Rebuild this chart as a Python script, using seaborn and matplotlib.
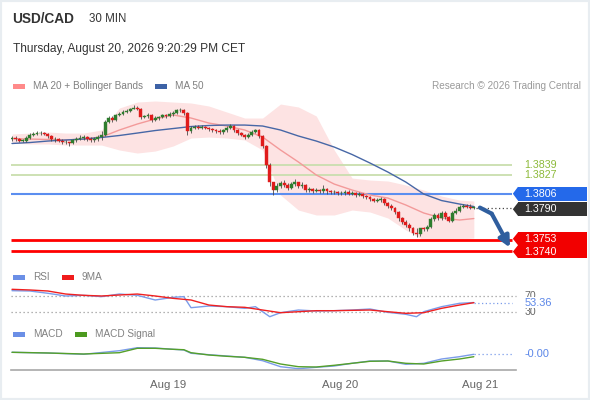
import numpy as np
import pandas as pd
import matplotlib
matplotlib.use("Agg")
import matplotlib.pyplot as plt
import seaborn as sns
from matplotlib.patches import Rectangle, Polygon

# ---------------- data ----------------
closes = [
    1.3870, 1.3869, 1.3867, 1.3867, 1.3870, 1.3874, 1.3875, 1.3876, 1.3876, 1.3875,
    1.3872, 1.3869, 1.3869, 1.3867, 1.3865, 1.3865, 1.3864, 1.3868, 1.3869, 1.3870,
    1.3871, 1.3869, 1.3868, 1.3869, 1.3871, 1.3874, 1.3889, 1.3893, 1.3891, 1.3897,
    1.3898, 1.3900, 1.3901, 1.3904, 1.3905, 1.3904, 1.3894, 1.3895, 1.3897, 1.3891,
    1.3893, 1.3894, 1.3897, 1.3895, 1.3898, 1.3899, 1.3902, 1.3902, 1.3899, 1.3878,
    1.3882, 1.3883, 1.3882, 1.3883, 1.3882, 1.3880, 1.3879, 1.3878, 1.3877, 1.3879,
    1.3882, 1.3884, 1.3879, 1.3876, 1.3874, 1.3871, 1.3874, 1.3877, 1.3879, 1.3872,
    1.3861, 1.3839, 1.3819, 1.3810, 1.3815, 1.3818, 1.3816, 1.3812, 1.3817, 1.3819,
    1.3815, 1.3816, 1.3810, 1.3811, 1.3809, 1.3810, 1.3809, 1.3811, 1.3809, 1.3808,
    1.3808, 1.3807, 1.3807, 1.3808, 1.3806, 1.3807, 1.3804, 1.3806, 1.3803, 1.3802,
    1.3800, 1.3798, 1.3799, 1.3800, 1.3795, 1.3792, 1.3790, 1.3785, 1.3778, 1.3774,
    1.3770, 1.3766, 1.3761, 1.3760, 1.3766, 1.3765, 1.3768, 1.3777, 1.3782, 1.3778,
    1.3784, 1.3779, 1.3775, 1.3784, 1.3786, 1.3791, 1.3792, 1.3791, 1.3790, 1.3790,
]
first_open = 1.3869
highs = [
    1.3872, 1.3872, 1.3870, 1.3869, 1.3872, 1.3876, 1.3877, 1.3878, 1.3878, 1.3877,
    1.3876, 1.3873, 1.3871, 1.3870, 1.3869, 1.3868, 1.3866, 1.3869, 1.3871, 1.3873,
    1.3873, 1.3872, 1.3871, 1.3871, 1.3873, 1.3878, 1.3891, 1.3896, 1.3895, 1.3898,
    1.3900, 1.3902, 1.3903, 1.3905, 1.3908, 1.3907, 1.3905, 1.3897, 1.3899, 1.3898,
    1.3895, 1.3896, 1.3898, 1.3898, 1.3900, 1.3901, 1.3904, 1.3905, 1.3903, 1.3900,
    1.3884, 1.3885, 1.3885, 1.3885, 1.3884, 1.3883, 1.3882, 1.3881, 1.3880, 1.3881,
    1.3884, 1.3886, 1.3885, 1.3880, 1.3877, 1.3875, 1.3876, 1.3879, 1.3881, 1.3880,
    1.3873, 1.3862, 1.3841, 1.3820, 1.3818, 1.3821, 1.3822, 1.3818, 1.3819, 1.3823,
    1.3820, 1.3819, 1.3817, 1.3814, 1.3813, 1.3812, 1.3811, 1.3816, 1.3812, 1.3810,
    1.3810, 1.3809, 1.3809, 1.3810, 1.3810, 1.3809, 1.3808, 1.3808, 1.3807, 1.3805,
    1.3803, 1.3801, 1.3801, 1.3802, 1.3801, 1.3796, 1.3794, 1.3791, 1.3786, 1.3779,
    1.3776, 1.3772, 1.3768, 1.3766, 1.3767, 1.3768, 1.3770, 1.3779, 1.3784, 1.3784,
    1.3786, 1.3786, 1.3780, 1.3786, 1.3789, 1.3793, 1.3794, 1.3794, 1.3794, 1.3792,
]
lows = [
    1.3867, 1.3867, 1.3865, 1.3865, 1.3866, 1.3869, 1.3872, 1.3874, 1.3874, 1.3873,
    1.3870, 1.3867, 1.3866, 1.3865, 1.3863, 1.3863, 1.3861, 1.3863, 1.3866, 1.3868,
    1.3868, 1.3867, 1.3865, 1.3866, 1.3867, 1.3868, 1.3872, 1.3887, 1.3889, 1.3890,
    1.3895, 1.3897, 1.3899, 1.3900, 1.3903, 1.3902, 1.3892, 1.3893, 1.3893, 1.3889,
    1.3890, 1.3891, 1.3893, 1.3893, 1.3894, 1.3896, 1.3898, 1.3900, 1.3897, 1.3874,
    1.3876, 1.3880, 1.3880, 1.3881, 1.3880, 1.3878, 1.3877, 1.3876, 1.3875, 1.3875,
    1.3877, 1.3880, 1.3877, 1.3874, 1.3872, 1.3869, 1.3870, 1.3872, 1.3876, 1.3870,
    1.3859, 1.3836, 1.3815, 1.3804, 1.3808, 1.3813, 1.3814, 1.3810, 1.3811, 1.3815,
    1.3813, 1.3813, 1.3808, 1.3808, 1.3807, 1.3808, 1.3807, 1.3807, 1.3806, 1.3806,
    1.3806, 1.3805, 1.3805, 1.3805, 1.3804, 1.3804, 1.3802, 1.3803, 1.3801, 1.3800,
    1.3798, 1.3796, 1.3796, 1.3797, 1.3793, 1.3790, 1.3787, 1.3783, 1.3775, 1.3771,
    1.3768, 1.3763, 1.3758, 1.3756, 1.3757, 1.3763, 1.3763, 1.3766, 1.3775, 1.3776,
    1.3776, 1.3777, 1.3773, 1.3774, 1.3783, 1.3785, 1.3789, 1.3789, 1.3788, 1.3788,
]

# indicator samples (candle index -> value)
ma_idx = [0, 5, 10, 15, 20, 25, 30, 35, 40, 45, 50, 55, 60, 65, 70, 75, 80, 85,
          90, 95, 100, 105, 110, 115, 120, 125, 129]
ma20 = [1.38695, 1.38689, 1.38684, 1.38678, 1.38689, 1.38712, 1.38793, 1.38862,
        1.38920, 1.38966, 1.38931, 1.38873, 1.38839, 1.38793, 1.38712, 1.38563,
        1.38425, 1.38275, 1.38171, 1.38102, 1.38045, 1.38010, 1.37930, 1.37838,
        1.37780, 1.37757, 1.37774]
ma50 = [1.38638, 1.38649, 1.38666, 1.38678, 1.38689, 1.38707, 1.38730, 1.38758,
        1.38787, 1.38810, 1.38833, 1.38845, 1.38850, 1.38850, 1.38839, 1.38793,
        1.38724, 1.38666, 1.38597, 1.38511, 1.38413, 1.38309, 1.38194, 1.38056,
        1.37981, 1.37941, 1.37912]
bb_upper = [1.38747, 1.38758, 1.38770, 1.38758, 1.38758, 1.38793, 1.39046, 1.39115,
            1.39127, 1.39115, 1.39104, 1.39069, 1.39000, 1.38931, 1.38931, 1.39092,
            1.39058, 1.38954, 1.38563, 1.38240, 1.38217, 1.38206, 1.38160, 1.38102,
            1.38033, 1.37987, 1.37976]
bb_lower = [1.38643, 1.38632, 1.38632, 1.38620, 1.38620, 1.38620, 1.38563, 1.38528,
            1.38551, 1.38609, 1.38701, 1.38712, 1.38701, 1.38678, 1.38563, 1.38045,
            1.37872, 1.37815, 1.37815, 1.37872, 1.37849, 1.37780, 1.37642, 1.37527,
            1.37527, 1.37538, 1.37550]

rsi_idx = [0, 5, 10, 15, 20, 25, 30, 35, 40, 45, 48, 50, 55, 60, 65, 68, 70, 72, 75,
           80, 85, 90, 95, 100, 105, 110, 113, 115, 120, 125, 129]
rsi = [83.5, 82.7, 76.9, 70.0, 71.7, 68.3, 75.0, 71.7, 59.8, 66.6, 68.3, 40.2, 44.5,
       42.8, 38.6, 42.8, 30.0, 17.3, 27.5, 34.3, 31.8, 32.6, 34.3, 36.9, 28.4, 23.4,
       17.3, 30.0, 42.8, 51.4, 53.36]
rsi_ma = [87.0, 85.3, 82.7, 75.0, 71.7, 70.0, 72.5, 75.0, 70.0, 64.0, 59.8, 47.0, 42.8,
          41.2, 34.3, 27.5, 30.0, 32.6, 32.6, 33.5, 34.3, 30.0, 25.9, 27.5, 38.6, 47.0,
          53.0]
rsi_levels = [70, 30]

macd_idx = [0, 10, 20, 30, 35, 40, 45, 48, 50, 55, 60, 65, 70, 75, 80, 85, 90, 95,
            100, 105, 110, 115, 120, 125, 129]
macd = [0.000051, 0.000030, -0.000009, 0.000099, 0.000189, 0.000180, 0.000141,
        0.000120, 0.000021, -0.000021, -0.000060, -0.000099, -0.000201, -0.000381,
        -0.000441, -0.000399, -0.000360, -0.000279, -0.000210, -0.000210, -0.000309,
        -0.000279, -0.000150, -0.000081, -0.000009]
macd_signal = [0.000051, 0.000030, 0.000000, 0.000039, 0.000171, 0.000171, 0.000141,
               0.000129, 0.000039, -0.000030, -0.000069, -0.000099, -0.000159,
               -0.000300, -0.000381, -0.000390, -0.000339, -0.000279, -0.000219,
               -0.000210, -0.000279, -0.000300, -0.000210, -0.000150, -0.000081]

resistance = [1.3839, 1.3827]
pivot = 1.3806
supports = [1.3753, 1.3740]
last_price = closes[-1]

forecast_x = [130.7, 134.0, 139.1]
forecast_y = [1.3790, 1.3783, 1.3744]

date_labels = ["Aug 19", "Aug 20", "Aug 21"]
date_pos = [43.6, 91.6, 130.7]

title = "USD/CAD"
interval = "30 MIN"
timestamp = "Thursday, August 20, 2026 9:20:29 PM CET"
credit = "Research \u00a9 2026 Trading Central"

# ---------------- style ----------------
sns.set_theme(style="white")
plt.rcParams["font.family"] = ["Liberation Sans", "DejaVu Sans"]

W, H = 590, 400
fig = plt.figure(figsize=(W / 100, H / 100), dpi=100)
fig.patch.set_facecolor("white")
fx = lambda x: x / W
fy = lambda y: 1 - y / H

XL = (-0.28, 161.45)       # x range of panels (11 px .. 590 px)
LINE_END = 139.7           # x = 512 px
BOX_L, BOX_R, TIP = 141.3, 160.6, 139.9
TXT_X = 143.1

# border
fig.add_artist(Rectangle((0, 0), 1, 1, transform=fig.transFigure, fill=False,
                         edgecolor="#e8edf1", lw=3))

# header texts
fig.text(fx(12), fy(19), title, fontsize=9.8, fontweight="bold", color="#333333", va="center")
fig.text(fx(89), fy(19), interval, fontsize=8.3, color="#333333", va="center")
fig.text(fx(13), fy(49), timestamp, fontsize=8.6, color="#333333", va="center")


def legend_item(x, y, color, label):
    fig.add_artist(Rectangle((fx(x), fy(y + 2.5)), 12 / W, 5 / H, transform=fig.transFigure,
                             color=color, lw=0))
    fig.text(fx(x + 20), fy(y), label, fontsize=7.2, color="#808080", va="center")


legend_item(13, 86, "#ff8a8a", "MA 20 + Bollinger Bands")
legend_item(155, 86, "#3d62a6", "MA 50")
fig.text(fx(581), fy(86), credit, fontsize=7.2, color="#9a9a9a", va="center", ha="right")
legend_item(13, 277, "#6b8fe6", "RSI")
legend_item(62, 277, "#f01c1c", "9MA")
legend_item(13, 334, "#6b8fe6", "MACD")
legend_item(75, 334, "#4c9a1f", "MACD Signal")


def clean(ax):
    ax.set_facecolor("none")
    for s in ax.spines.values():
        s.set_visible(False)
    ax.set_xticks([])
    ax.set_yticks([])
    ax.set_xlabel("")
    ax.set_ylabel("")


# ---------------- price panel ----------------
ax = fig.add_axes([fx(11), fy(258), (W - 11) / W, 163 / H])
ax.set_xlim(*XL)
ax.set_ylim(1.37320, 1.39196)

ax.fill_between(ma_idx, bb_lower, bb_upper, color="#fde3e3", lw=0, zorder=1)

for lvl in resistance:
    ax.hlines(lvl, XL[0], LINE_END, color="#c9deae", lw=1.3, zorder=2)
    ax.text(TXT_X, lvl, f"{lvl:.4f}", color="#8dba3a", fontsize=7.7, va="center", ha="left")
ax.hlines(pivot, XL[0], LINE_END, color="#5b8ef0", lw=1.5, zorder=2)
for lvl in supports:
    ax.hlines(lvl, XL[0], LINE_END, color="#ff0000", lw=2.0, zorder=2)

sns.lineplot(x=ma_idx, y=ma20, ax=ax, color="#f39a9a", lw=1.0, zorder=3, legend=False)
sns.lineplot(x=ma_idx, y=ma50, ax=ax, color="#4767a6", lw=1.0, zorder=3, legend=False)

idx = np.arange(len(closes))
opens = [first_open] + closes[:-1]
o = np.array(opens)
c = np.array(closes)
up = c >= o
col = np.where(up, "#2e7d2e", "#e01b1b")
ax.vlines(idx, lows, highs, color="#4a4a4a", lw=0.6, zorder=4)
body_bot = np.minimum(o, c)
body_h = np.maximum(np.abs(c - o), 0.00003)
ax.bar(idx, body_h, bottom=body_bot, width=0.8, color=col, edgecolor=col, lw=0.3, zorder=5)

# last price dotted extension
ax.hlines(last_price, idx[-1] + 0.5, LINE_END, color="#444444", lw=0.9,
          linestyles=(0, (1, 2)), zorder=3)

# forecast arrow
ax.plot(forecast_x[:2], forecast_y[:2], color="#2f5e9e", lw=3, solid_capstyle="round", zorder=6)
ax.annotate("", xy=(forecast_x[2], forecast_y[2]), xytext=(forecast_x[1], forecast_y[1]),
            arrowprops=dict(arrowstyle="-|>", color="#2f5e9e", lw=3, mutation_scale=16,
                            shrinkA=0, shrinkB=0), zorder=6)

PX = 1 / 8687.0  # price per pixel


def tag(level, color, center=None, h=14):
    cy = level if center is None else center
    hh = h * PX
    ax.add_patch(Rectangle((BOX_L, cy - hh / 2), BOX_R - BOX_L, hh, color=color, lw=0,
                           zorder=7, clip_on=False))
    ax.add_patch(Polygon([(BOX_L + 0.05, cy + hh / 2), (TIP, cy), (BOX_L + 0.05, cy - hh / 2)],
                         closed=True, color=color, lw=0, zorder=7, clip_on=False))
    ax.text(TXT_X, cy, f"{level:.4f}", color="white", fontsize=7.7, va="center", ha="left",
            zorder=8)


tag(pivot, "#2469ea")
tag(last_price, "#333333", center=last_price - 1.6 * PX, h=13.5)
tag(supports[0], "#f20000", center=supports[0] + 1.0 * PX, h=13)
tag(supports[1], "#f20000", center=supports[1] - 0.6 * PX, h=13)
clean(ax)

# ---------------- RSI panel ----------------
ax2 = fig.add_axes([fx(11), fy(323.5), (W - 11) / W, (323.5 - 284.2) / H])
ax2.set_xlim(*XL)
ax2.set_ylim(0, 100)
for lv in rsi_levels:
    ax2.hlines(lv, XL[0], 140.8, color="#9a9a9a", lw=0.9, linestyles=(0, (1, 2.2)))
    ax2.text(TXT_X, lv, f"{lv}", color="#666666", fontsize=7.6, va="center", ha="left")
sns.lineplot(x=rsi_idx, y=rsi, ax=ax2, color="#7b9cea", lw=1.0, legend=False)
sns.lineplot(x=ma_idx, y=rsi_ma, ax=ax2, color="#f02020", lw=1.0, legend=False)
ax2.hlines(rsi[-1], rsi_idx[-1], LINE_END, color="#7b9cea", lw=0.9, linestyles=(0, (1, 2)))
ax2.text(TXT_X, rsi[-1], f"{rsi[-1]:.2f}", color="#5b86e8", fontsize=7.9, va="center",
         ha="left", bbox=dict(facecolor="white", edgecolor="none", pad=0.6), zorder=5)
clean(ax2)

# ---------------- MACD panel ----------------
ax3 = fig.add_axes([fx(11), fy(372), (W - 11) / W, 34 / H])
ax3.set_xlim(*XL)
ax3.set_ylim(-0.00054, 0.00048)
sns.lineplot(x=macd_idx, y=macd, ax=ax3, color="#7b9cea", lw=1.0, legend=False)
sns.lineplot(x=macd_idx, y=macd_signal, ax=ax3, color="#55a02a", lw=1.0, legend=False)
ax3.hlines(macd[-1], macd_idx[-1], LINE_END, color="#7b9cea", lw=0.9, linestyles=(0, (1, 2.2)))
ax3.text(TXT_X, macd[-1], f"{macd[-1]:.2f}", color="#5b86e8", fontsize=7.9, va="center",
         ha="left")
clean(ax3)

# ---------------- time axis ----------------
axt = fig.add_axes([fx(11), fy(370), (516 - 11) / W, 0.0001])
axt.set_facecolor("none")
axt.set_xlim(-0.28, 140.8)
for s in ["top", "left", "right"]:
    axt.spines[s].set_visible(False)
axt.spines["bottom"].set_color("#a8a8a8")
axt.spines["bottom"].set_linewidth(1.2)
axt.set_yticks([])
axt.set_xticks(date_pos)
axt.set_xticklabels(date_labels)
axt.tick_params(axis="x", which="major", length=0, pad=7, labelsize=8.2, labelcolor="#666666")
axt.set_xticks([-0.2, 140.7], minor=True)
axt.tick_params(axis="x", which="minor", length=7, width=1.2, color="#a8a8a8", direction="out")

fig.savefig("out.png", dpi=100, facecolor="white")
